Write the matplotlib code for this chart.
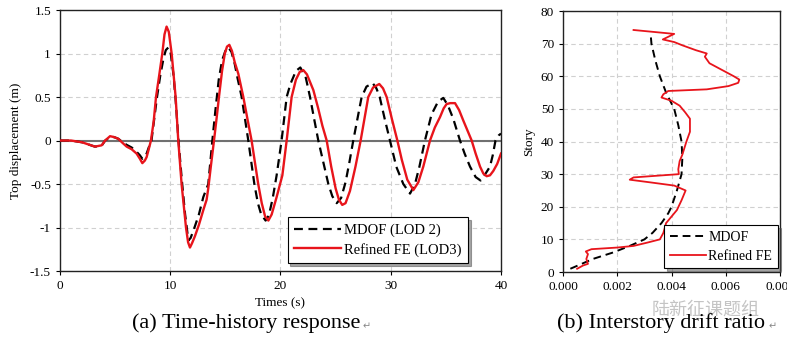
import matplotlib
matplotlib.use("Agg")
import matplotlib.pyplot as plt

# (a) time-history response
T_MDOF = [0, 1.0, 2.0, 2.7, 3.17, 3.78, 4.1, 4.54, 4.9, 5.29, 5.7, 6.05, 6.5, 6.95, 7.25,
          7.47, 7.7, 7.86, 8.05, 8.3, 8.5, 8.8, 9.1, 9.4, 9.6, 9.83, 10.05, 10.3, 10.5,
          10.75, 11.05, 11.35, 11.5, 11.64, 11.85, 12.2, 12.6, 13.0, 13.45, 13.82, 14.1,
          14.4, 14.7, 15.0, 15.27, 15.55, 15.85, 16.1, 16.48, 17.08, 17.63, 17.95, 18.25,
          18.65, 18.95, 19.3, 19.65, 20.1, 20.56, 20.9, 21.4, 21.8, 22.3, 22.68, 23.05,
          23.43, 24.34, 24.7, 25.1, 25.5, 25.9, 26.25, 26.6, 27.36, 27.8, 28.36, 28.7,
          29.0, 29.45, 29.93, 30.5, 31.14, 31.75, 32.2, 32.6, 33.1, 33.7, 34.3, 34.77,
          35.2, 35.67, 36.28, 36.7, 37.19, 37.7, 38.15, 38.6, 39.0, 39.25, 39.5, 39.8, 40.0]
D_MDOF = [0, 0, -0.02, -0.05, -0.07, -0.06, 0.0, 0.04, 0.04, 0.02, -0.02, -0.05, -0.08,
          -0.13, -0.17, -0.21, -0.19, -0.15, -0.08, 0.0, 0.2, 0.5, 0.75, 0.95, 1.04, 1.07,
          1.0, 0.75, 0.45, 0.0, -0.45, -0.85, -1.0, -1.15, -1.12, -1.0, -0.85, -0.65,
          -0.5, 0.0, 0.35, 0.7, 0.92, 1.03, 1.07, 1.02, 0.88, 0.72, 0.5, 0.0, -0.5, -0.72,
          -0.85, -0.92, -0.86, -0.66, -0.4, 0.0, 0.5, 0.65, 0.8, 0.84, 0.72, 0.5, 0.25,
          0.0, -0.5, -0.64, -0.72, -0.66, -0.48, -0.25, 0.0, 0.5, 0.62, 0.66, 0.6, 0.5,
          0.25, 0.0, -0.3, -0.5, -0.61, -0.5, -0.3, 0.0, 0.3, 0.45, 0.49, 0.4, 0.25, 0.0,
          -0.15, -0.3, -0.42, -0.46, -0.38, -0.3, -0.17, 0.0, 0.06, 0.08]

T_FE = [0, 1.0, 2.0, 2.7, 3.17, 3.78, 4.1, 4.54, 4.9, 5.29, 5.7, 6.05, 6.5, 6.95, 7.25,
        7.47, 7.7, 7.86, 8.05, 8.25, 8.5, 8.71, 9.0, 9.28, 9.48, 9.67, 9.87, 10.13, 10.49,
        10.73, 11.03, 11.43, 11.62, 11.79, 11.98, 12.24, 12.6, 13.0, 13.3, 13.45, 13.7,
        13.97, 14.2, 14.42, 14.7, 14.95, 15.15, 15.36, 15.6, 15.85, 16.17, 16.63, 17.0,
        17.38, 17.98, 18.3, 18.6, 18.9, 19.2, 19.65, 20.17, 20.56, 21.01, 21.4, 21.75,
        22.07, 22.4, 22.98, 23.4, 23.8, 24.19, 24.6, 25.0, 25.3, 25.6, 25.9, 26.3, 26.8,
        27.27, 27.96, 28.4, 28.96, 29.3, 29.63, 30.1, 30.6, 31.0, 31.5, 32.05, 32.5,
        32.95, 33.56, 34.0, 34.47, 34.8, 35.07, 35.4, 35.83, 36.2, 36.58, 37.34, 37.7,
        38.1, 38.4, 38.7, 39.0, 39.3, 39.65, 40.0]
D_FE = [0, 0, -0.02, -0.05, -0.07, -0.055, 0.0, 0.05, 0.04, 0.02, -0.03, -0.07, -0.1,
        -0.15, -0.21, -0.26, -0.23, -0.19, -0.1, 0.0, 0.22, 0.5, 0.75, 1.0, 1.22, 1.31,
        1.25, 1.0, 0.5, 0.0, -0.5, -1.0, -1.17, -1.23, -1.18, -1.1, -0.97, -0.8, -0.68,
        -0.55, -0.28, 0.0, 0.25, 0.5, 0.8, 1.0, 1.08, 1.1, 1.03, 0.9, 0.77, 0.5, 0.25,
        0.0, -0.5, -0.72, -0.87, -0.92, -0.85, -0.65, -0.4, 0.0, 0.5, 0.7, 0.79, 0.81,
        0.76, 0.58, 0.38, 0.17, 0.0, -0.3, -0.55, -0.68, -0.74, -0.72, -0.58, -0.3, 0.0,
        0.5, 0.61, 0.65, 0.6, 0.5, 0.25, 0.0, -0.22, -0.45, -0.57, -0.48, -0.3, 0.0,
        0.15, 0.27, 0.37, 0.42, 0.43, 0.43, 0.35, 0.23, 0.0, -0.15, -0.3, -0.38, -0.41,
        -0.4, -0.35, -0.27, -0.15]

# (b) interstory drift ratio
DRIFT_MDOF = [0.00027, 0.00055, 0.0011, 0.00185, 0.00246, 0.0030, 0.0033, 0.00363,
              0.00388, 0.0040, 0.0042, 0.00437, 0.0044, 0.00437, 0.00425, 0.0041,
              0.0038, 0.00357, 0.0034, 0.00326, 0.00323]
STORY_MDOF = [1, 2, 4, 6, 8, 10, 12, 15, 18, 20, 25, 30, 35, 40, 45, 50, 55, 60, 65, 70, 73]

DRIFT_FE = [0.00052, 0.00074, 0.00092, 0.00086, 0.00092, 0.00084, 0.00105, 0.0020,
            0.0026, 0.0031, 0.00357, 0.0037, 0.0038, 0.0040, 0.0042, 0.00437, 0.00452,
            0.0041, 0.0032, 0.00246, 0.0026, 0.00427, 0.00425, 0.0043, 0.0044, 0.00455,
            0.00468, 0.00468, 0.0045, 0.0043, 0.0040, 0.00363, 0.0037, 0.00388, 0.0053,
            0.0061, 0.00646, 0.0065, 0.0063, 0.00585, 0.0054, 0.00523, 0.0053, 0.0049,
            0.0044, 0.0041, 0.00368, 0.0041, 0.0026]
STORY_FE = [1, 2, 2.5, 4, 5.5, 6.3, 7, 7.5, 8, 9, 10, 12, 15, 17, 19, 22, 25, 26.5,
            27.5, 28.3, 29, 30, 31.5, 34, 36, 40, 43, 47, 49, 51, 52.5, 53.5, 54.5, 55.5,
            56, 57, 58, 59, 60, 62, 64, 66, 67, 68, 69.5, 70.5, 71.3, 73, 74.2]

plt.rcParams["font.family"] = ["Liberation Serif", "DejaVu Sans"]
plt.rcParams["font.size"] = 9.5

fig = plt.figure(figsize=(7.87, 3.47), dpi=100)
ax1 = fig.add_axes([0.0762, 0.219, 0.5604, 0.752])
ax2 = fig.add_axes([0.7154, 0.2161, 0.2757, 0.752])

grid_kw = dict(color="#d0d0d0", linestyle=(0, (4, 3)), linewidth=0.8)

# left panel
ax1.axhline(0, color="#707070", linewidth=1.5, zorder=1)
ax1.plot(T_MDOF, D_MDOF, color="black", linestyle=(0, (4, 2.5)), linewidth=1.6,
         label="MDOF (LOD 2)", zorder=3)
ax1.plot(T_FE, D_FE, color="#e8141b", linewidth=1.7, label="Refined FE (LOD3)", zorder=4)
ax1.set_xlim(0, 40)
ax1.set_ylim(-1.5, 1.5)
ax1.set_xticks([0, 10, 20, 30, 40])
ax1.set_yticks([-1.5, -1, -0.5, 0, 0.5, 1, 1.5])
ax1.set_yticklabels(["-1.5", "-1", "-0.5", "0", "0.5", "1", "1.5"])
ax1.grid(True, **grid_kw)
ax1.set_axisbelow(True)
ax1.set_xlabel("Times (s)", labelpad=4)
ax1.set_ylabel("Top displacement (m)", labelpad=6)
leg1 = ax1.legend(loc="lower right", bbox_to_anchor=(0.925, 0.03), borderaxespad=0,
                  frameon=True, fancybox=False, shadow=True, edgecolor="black",
                  fontsize=10.5, handlelength=3.2, handletextpad=0.2, borderpad=0.45,
                  labelspacing=0.4)
leg1.get_frame().set_linewidth(0.8)

# right panel
ax2.plot(DRIFT_MDOF, STORY_MDOF, color="black", linestyle=(0, (4, 2.5)), linewidth=1.4,
         label="MDOF", zorder=3)
ax2.plot(DRIFT_FE, STORY_FE, color="#e8141b", linewidth=1.3, label="Refined FE", zorder=4)
ax2.set_xlim(0, 0.008)
ax2.set_ylim(0, 80)
ax2.set_xticks([0, 0.002, 0.004, 0.006, 0.008])
ax2.set_xticklabels(["0.000", "0.002", "0.004", "0.006", "0.008"])
ax2.set_yticks(range(0, 81, 10))
ax2.grid(True, **grid_kw)
ax2.set_axisbelow(True)
ax2.set_ylabel("Story", labelpad=4)
leg2 = ax2.legend(loc="lower right", bbox_to_anchor=(0.99, 0.015), borderaxespad=0,
                  frameon=True, fancybox=False, shadow=True, edgecolor="black",
                  fontsize=10, handlelength=2.6, handletextpad=0.2, borderpad=0.4,
                  labelspacing=0.4)
leg2.get_frame().set_linewidth(0.8)

for ax in (ax1, ax2):
    for s in ax.spines.values():
        s.set_linewidth(1.0)
        s.set_color("#222222")
    ax.tick_params(direction="out", length=3, width=0.8)

# watermark and captions under each panel
fig.text(0.896, 0.108, "陆新征课题组", fontsize=13, color="#c4c4c4",
         ha="center", va="center", family=["Noto Sans CJK SC", "DejaVu Sans"])
fig.text(0.3125, 0.07, "(a) Time-history response", fontsize=16, ha="center", va="center")
fig.text(0.8405, 0.07, "(b) Interstory drift ratio", fontsize=16, ha="center", va="center")
fig.text(0.466, 0.06, "\u21b5", fontsize=7, color="#888888", ha="center", va="center",
         family=["DejaVu Sans"])
fig.text(0.982, 0.06, "\u21b5", fontsize=7, color="#888888", ha="center", va="center",
         family=["DejaVu Sans"])

fig.savefig("out.png", dpi=100)
